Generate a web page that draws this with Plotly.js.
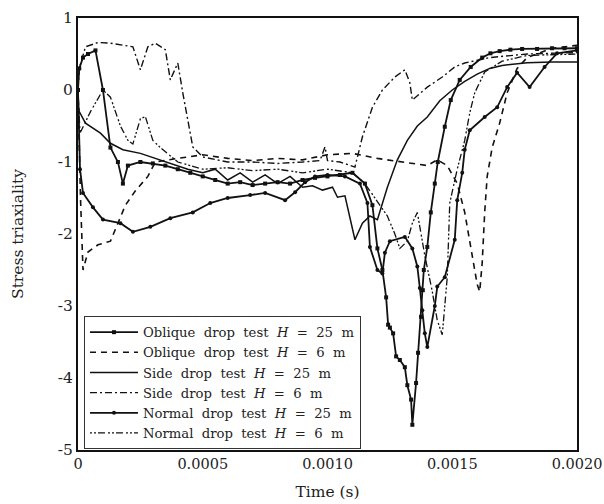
<!DOCTYPE html>
<html>
<head>
<meta charset="utf-8">
<script src="https://cdn.plot.ly/plotly-3.0.1.min.js"></script>
<style>html,body{margin:0;padding:0;background:#fff;}#chart{width:604px;height:504px;}</style>
</head>
<body>
<div id="chart"></div>
<script>
// Series names (non-breaking spaces keep the wide spacing of the original legend)
const seriesNames = [
  "Oblique\u00a0 drop\u00a0 test\u00a0 <i>H</i>\u00a0\u00a0=\u00a0\u00a025\u00a0 m",
  "Oblique\u00a0 drop\u00a0 test\u00a0 <i>H</i>\u00a0\u00a0=\u00a0\u00a06\u00a0 m",
  "Side\u00a0 drop\u00a0 test\u00a0 <i>H</i>\u00a0\u00a0=\u00a0\u00a025\u00a0 m",
  "Side\u00a0 drop\u00a0 test\u00a0 <i>H</i>\u00a0\u00a0=\u00a0\u00a06\u00a0 m",
  "Normal\u00a0 drop\u00a0 test\u00a0 <i>H</i>\u00a0\u00a0=\u00a0\u00a025\u00a0 m",
  "Normal\u00a0 drop\u00a0 test\u00a0 <i>H</i>\u00a0\u00a0=\u00a0\u00a06\u00a0 m"
];

// Oblique drop test H = 25 m (solid, square markers)
const obl25X = [0, 0.000005, 0.00002, 0.00004, 0.00007, 0.0001, 0.00013, 0.00016, 0.00018, 0.0002, 0.00025, 0.0003, 0.00035, 0.0004, 0.00045, 0.0005, 0.00055, 0.0006, 0.00065, 0.0007, 0.00075, 0.0008, 0.00085, 0.0009, 0.00095, 0.001, 0.00105, 0.0011, 0.00115, 0.00118, 0.0012, 0.00122, 0.001235, 0.001243, 0.00125, 0.001263, 0.001275, 0.00129, 0.00131, 0.00132, 0.001335, 0.00134, 0.001355, 0.001363, 0.001375, 0.001382, 0.001386, 0.0014, 0.001414, 0.00143, 0.001442, 0.00147, 0.001494, 0.00153, 0.001574, 0.00162, 0.001653, 0.00169, 0.001733, 0.00178, 0.00184, 0.0019, 0.00195, 0.002];
const obl25Y = [0, 0.3, 0.45, 0.5, 0.55, 0.0, -0.8, -1.0, -1.3, -1.05, -1.0, -1.02, -1.05, -1.1, -1.15, -1.2, -1.25, -1.3, -1.28, -1.32, -1.3, -1.28, -1.3, -1.25, -1.22, -1.2, -1.18, -1.15, -1.3, -1.6, -2.2, -2.5, -2.88, -3.26, -3.3, -3.38, -3.7, -3.75, -3.85, -4.1, -4.3, -4.65, -4.07, -3.65, -3.15, -2.78, -2.5, -2.18, -1.7, -1.3, -1.0, -0.51, -0.14, 0.14, 0.32, 0.45, 0.51, 0.54, 0.56, 0.57, 0.57, 0.58, 0.58, 0.58];

// Oblique drop test H = 6 m (dashed)
const obl6X = [0, 0.00001, 0.00002, 0.00004, 0.00008, 0.00013, 0.00019, 0.00023, 0.00028, 0.00031, 0.0004, 0.0005, 0.0006, 0.0007, 0.0008, 0.0009, 0.001, 0.0011, 0.0012, 0.0013, 0.0014, 0.00144, 0.00148, 0.00152, 0.00155, 0.00158, 0.0016, 0.00161, 0.00162, 0.00163, 0.00164, 0.00166, 0.00169, 0.00172, 0.00176, 0.0018, 0.0019, 0.002];
const obl6Y = [0, -1.5, -2.5, -2.25, -2.15, -2.1, -1.6, -1.4, -1.2, -1.0, -0.95, -0.9, -0.95, -0.98, -0.95, -0.97, -0.9, -0.88, -0.95, -1.0, -1.05, -0.97, -1.05, -1.3, -1.7, -2.3, -2.7, -2.8, -2.4, -1.7, -1.2, -0.8, -0.46, -0.04, 0.3, 0.45, 0.58, 0.62];

// Side drop test H = 25 m (solid)
const side25X = [0, 0.000005, 0.00003, 0.00009, 0.00013, 0.00018, 0.00025, 0.00035, 0.00044, 0.0005, 0.00055, 0.0006, 0.00065, 0.0007, 0.00075, 0.0008, 0.00085, 0.0009, 0.00094, 0.00098, 0.00102, 0.00104, 0.00107, 0.00111, 0.00114, 0.00117, 0.0012, 0.00124, 0.00128, 0.00132, 0.00136, 0.0014, 0.00145, 0.0015, 0.00155, 0.0016, 0.00165, 0.0017, 0.0018, 0.0019, 0.002];
const side25Y = [-0.2, -0.3, -0.46, -0.6, -0.74, -0.83, -0.88, -1.0, -1.1, -1.15, -1.1, -1.25, -1.15, -1.28, -1.18, -1.3, -1.2, -1.35, -1.33, -1.39, -1.35, -1.49, -1.47, -2.08, -1.85, -1.75, -1.8, -1.35, -0.97, -0.7, -0.5, -0.375, -0.15, 0.0, 0.12, 0.22, 0.3, 0.34, 0.38, 0.39, 0.39];

// Side drop test H = 6 m (dash-dot)
const side6X = [0, 0.000005, 0.00003, 0.00008, 0.00013, 0.00022, 0.00025, 0.00028, 0.00031, 0.00035, 0.00037, 0.0004, 0.00042, 0.00045, 0.00046, 0.0005, 0.0006, 0.0007, 0.0008, 0.0009, 0.00097, 0.00099, 0.001, 0.00105, 0.00111, 0.00114, 0.00118, 0.00122, 0.00127, 0.00131, 0.00133, 0.00134, 0.00137, 0.0014, 0.00146, 0.00151, 0.00155, 0.00165, 0.0018, 0.002];
const side6Y = [0, 0.3, 0.6, 0.66, 0.65, 0.6, 0.28, 0.6, 0.65, 0.56, 0.14, 0.375, -0.04, -0.6, -0.79, -0.93, -1.0, -1.0, -1.02, -1.0, -0.98, -0.79, -0.98, -1.0, -1.07, -0.65, -0.24, 0.0, 0.18, 0.28, 0.1, -0.14, -0.05, 0.04, 0.18, 0.32, 0.375, 0.45, 0.5, 0.52];

// Normal drop test H = 25 m (solid, circle markers)
const norm25X = [0, 0.000008, 0.00002, 0.00006, 0.0001, 0.00017, 0.00022, 0.00029, 0.00037, 0.00046, 0.00053, 0.0006, 0.00069, 0.00075, 0.00083, 0.00087, 0.00091, 0.00095, 0.001, 0.00107, 0.00113, 0.00116, 0.00117, 0.0012, 0.00122, 0.00123, 0.00125, 0.00131, 0.00134, 0.00136, 0.00137, 0.00138, 0.00139, 0.0014, 0.00143, 0.00144, 0.00147, 0.00151, 0.00152, 0.00154, 0.00155, 0.00157, 0.00163, 0.00168, 0.00172, 0.00176, 0.00181, 0.00187, 0.00192, 0.002];
const norm25Y = [0, -1.1, -1.43, -1.63, -1.8, -1.85, -1.97, -1.9, -1.78, -1.7, -1.57, -1.5, -1.46, -1.43, -1.53, -1.42, -1.28, -1.2, -1.18, -1.2, -1.3, -1.57, -2.18, -2.5, -2.55, -2.26, -2.1, -2.04, -2.2, -2.45, -2.75, -3.06, -3.38, -3.57, -3.0, -2.73, -2.6, -2.08, -1.53, -1.15, -0.83, -0.56, -0.375, -0.24, 0.04, 0.24, 0.04, 0.32, 0.51, 0.55];

// Normal drop test H = 6 m (dash-dot-dot)
const norm6X = [0, 0.000008, 0.00005, 0.0001, 0.00013, 0.00017, 0.0002, 0.00022, 0.00025, 0.00027, 0.0003, 0.00033, 0.0004, 0.0005, 0.0006, 0.0007, 0.0008, 0.0009, 0.001, 0.0011, 0.00115, 0.00121, 0.00124, 0.00127, 0.00129, 0.00132, 0.00134, 0.00136, 0.00139, 0.00142, 0.00144, 0.00146, 0.00148, 0.00149, 0.00152, 0.00155, 0.00157, 0.00159, 0.00163, 0.0017, 0.0018, 0.002];
const norm6Y = [0, -0.6, -0.3, 0.0, -0.1, -0.5, -0.7, -0.75, -0.4, -0.37, -0.7, -0.8, -1.0, -1.1, -1.08, -1.12, -1.1, -1.15, -1.1, -1.15, -1.3, -1.6, -1.75, -2.0, -2.2, -2.1, -1.85, -1.7, -2.3, -2.8, -3.2, -3.4, -2.6, -1.57, -1.1, -0.7, -0.32, -0.04, 0.25, 0.4, 0.48, 0.5];

// Tick labels
const xTickVals = [0, 0.0005, 0.001, 0.0015, 0.002];
const xTickText = ["0", "0.0005", "0.0010", "0.0015", "0.0020"];
const yTickVals = [1, 0, -1, -2, -3, -4, -5];
const yTickText = ["1", "0", "-1", "-2", "-3", "-4", "-5"];

const black = "#111";
const serif = "DejaVu Serif, Liberation Serif, serif";
const traces = [
  {x: obl25X, y: obl25Y, name: seriesNames[0], mode: "lines+markers",
   line: {color: black, width: 1.8}, marker: {symbol: "square", size: 4, color: black}},
  {x: obl6X, y: obl6Y, name: seriesNames[1], mode: "lines",
   line: {color: black, width: 1.6, dash: "6px,5px"}},
  {x: side25X, y: side25Y, name: seriesNames[2], mode: "lines",
   line: {color: black, width: 1.5}},
  {x: side6X, y: side6Y, name: seriesNames[3], mode: "lines",
   line: {color: black, width: 1.4, dash: "7px,3px,2px,3px"}},
  {x: norm25X, y: norm25Y, name: seriesNames[4], mode: "lines+markers",
   line: {color: black, width: 1.8}, marker: {symbol: "circle", size: 4, color: black}},
  {x: norm6X, y: norm6Y, name: seriesNames[5], mode: "lines",
   line: {color: black, width: 1.3, dash: "2px,2px,2px,2px,7px,3px"}}
];

const layout = {
  width: 604, height: 504,
  margin: {l: 78, r: 27, t: 18, b: 54},
  paper_bgcolor: "#fff", plot_bgcolor: "#fff",
  font: {family: serif, size: 15, color: "#222"},
  showlegend: true,
  legend: {x: 0.012, y: 0.31, xanchor: "left", yanchor: "top",
    bgcolor: "#fff", bordercolor: "#333", borderwidth: 1,
    font: {family: serif, size: 13.2, color: "#222"},
    itemwidth: 48, tracegroupgap: 0},
  xaxis: {range: [0, 0.002], tickvals: xTickVals, ticktext: xTickText,
    showgrid: false, zeroline: false, showline: true, mirror: true,
    linecolor: "#111", linewidth: 2, ticks: "",
    tickfont: {family: serif, size: 14.5},
    title: {text: "Time (s)", font: {family: serif, size: 15.5}, standoff: 15}},
  yaxis: {range: [-5, 1], tickvals: yTickVals, ticktext: yTickText,
    showgrid: false, zeroline: false, showline: true, mirror: true,
    linecolor: "#111", linewidth: 2, ticks: "",
    tickfont: {family: serif, size: 15.5},
    title: {text: "Stress triaxiality", font: {family: serif, size: 15.5}, standoff: 30}}
};

Plotly.newPlot("chart", traces, layout, {displayModeBar: false, staticPlot: true});
</script>
</body>
</html>
